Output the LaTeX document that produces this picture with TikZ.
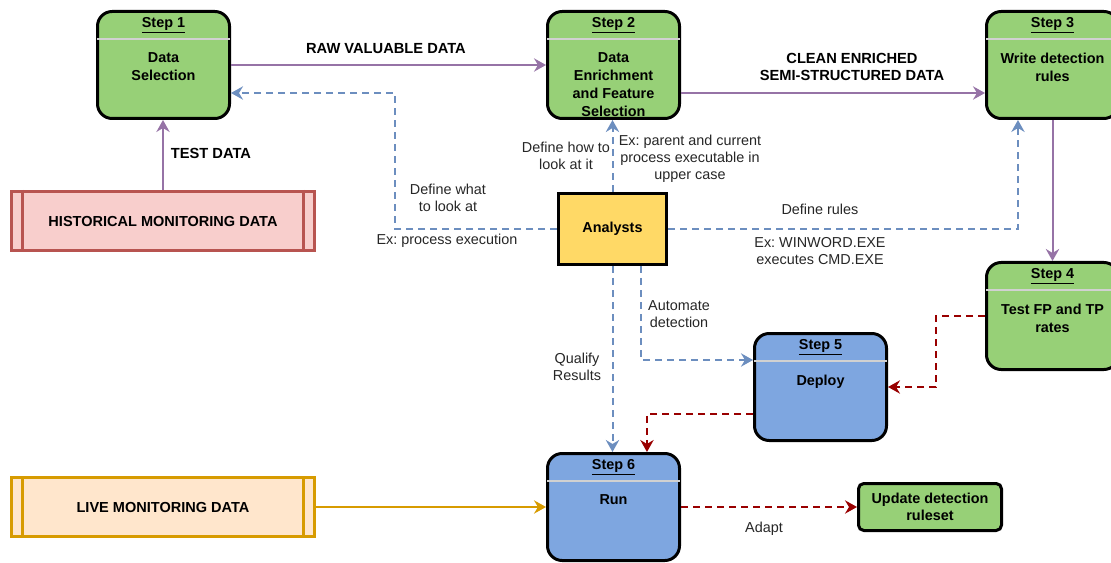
\documentclass[tikz,border=0pt]{standalone}
\usepackage{fontspec}
\setmainfont{Liberation Sans}
\frenchspacing
\usetikzlibrary{arrows.meta,positioning}
\definecolor{stepgreen}{HTML}{97D077}
\definecolor{stepblue}{HTML}{7EA6E0}
\definecolor{flowpurple}{HTML}{9673A6}
\definecolor{askblue}{HTML}{6C8EBF}
\definecolor{fixred}{HTML}{990000}
\definecolor{livefill}{HTML}{FFE6CC}
\definecolor{livedraw}{HTML}{D79B00}
\definecolor{histfill}{HTML}{F8CECC}
\definecolor{histdraw}{HTML}{B85450}
\definecolor{analystfill}{HTML}{FFD966}
\tikzset{
 st/.style
  = {rectangle, draw, line width=2.25pt, rounded corners=11pt, inner sep=0pt,
     minimum width=99pt, minimum height=80.25pt},
 hd/.style
  = {anchor=north, yshift=-5.6pt, inner sep=0pt, font=\fontsize{10.8}{13.5}\selectfont\bfseries},
 bd/.style
  = {anchor=north, yshift=-31.9pt, inner sep=0pt, align=center,
     font=\fontsize{10.8}{13.5}\selectfont\bfseries},
 src/.style
  = {rectangle, line width=2.25pt, minimum width=227.25pt, minimum height=44.25pt,
     font=\fontsize{10.9}{13}\selectfont\bfseries},
 lb/.style
  = {align=center, inner sep=0pt, text=black!85, font=\fontsize{10.8}{12.75}\selectfont},
 bl/.style
  = {align=center, inner sep=0pt, font=\fontsize{11}{12.75}\selectfont\bfseries},
 l/.style
  = {draw=flowpurple, line width=1.5pt, -{Stealth[length=9pt,width=10pt,inset=3pt]}},
 ll/.style
  = {draw=askblue, line width=1.5pt, dash pattern=on 5.5pt off 3.5pt,
     -{Stealth[length=9pt,width=10pt,inset=3pt]}},
 lr/.style
  = {draw=fixred, line width=1.5pt, dash pattern=on 5.5pt off 3.5pt,
     -{Stealth[length=9pt,width=10pt,inset=3pt]}},
}

\begin{document}
\begin{tikzpicture}[x=0.75pt, y=-0.75pt]
\useasboundingbox (0,0) rectangle (1111,563);

% Steps
\node[st, fill=stepgreen, label={[hd]north:\underline{Step 1}},
  label={[bd]north:{Data\\Selection}}] (s1) at (163.5,65) {};
\node[st, fill=stepgreen, label={[hd]north:\underline{Step 2}},
  label={[bd]north:{Data\\Enrichment\\and Feature\\Selection}}] (s2) at (613.5,65) {};
\node[st, fill=stepgreen, label={[hd]north:\underline{Step 3}},
  label={[bd]north:{Write detection\\rules}}] (s3) at (1052.5,65) {};
\node[st, fill=stepgreen, label={[hd]north:\underline{Step 4}},
  label={[bd]north:{Test FP and TP\\rates}}] (s4) at (1052.5,316) {};
\node[st, fill=stepblue, label={[hd]north:\underline{Step 5}},
  label={[bd]north:{Deploy}}] (s5) at (820.5,387) {};
\node[st, fill=stepblue, label={[hd]north:\underline{Step 6}},
  label={[bd]north:{Run}}] (s6) at (613.5,507) {};
\foreach \n in {s1,s2,s3,s4,s5,s6}
  \draw[white!82!black, line width=1.5pt] ([xshift=1.1pt,yshift=-21.4pt]\n.north west)
    -- ([xshift=-1.1pt,yshift=-21.4pt]\n.north east);

% Update box
\node[rectangle, draw, line width=2.25pt, rounded corners=4pt, fill=stepgreen,
  minimum width=107.25pt, minimum height=35.25pt, align=center,
  font=\fontsize{10.8}{12.75}\selectfont\bfseries] (upd) at (930,507)
  {Update detection\\ruleset};

% Analysts
\node[rectangle, draw, line width=2.25pt, fill=analystfill, minimum width=81pt,
  minimum height=53.25pt, font=\fontsize{10.8}{13.5}\selectfont\bfseries] (an) at (612.5,229) {Analysts};

% Data sources
\node[src, draw=histdraw, fill=histfill] (hist) at (163,221) {HISTORICAL MONITORING DATA};
\node[src, draw=livedraw, fill=livefill] (live) at (163,507) {LIVE MONITORING DATA};
\foreach \n/\c in {hist/histdraw, live/livedraw} {
  \draw[\c, line width=2.25pt] ([xshift=9.4pt]\n.north west) -- ([xshift=9.4pt]\n.south west);
  \draw[\c, line width=2.25pt] ([xshift=-9.4pt]\n.north east) -- ([xshift=-9.4pt]\n.south east);
}

% Data flow
\draw[l] (s1.east) -- (s2.west);
\draw[l] (s2.east |- 0,93) -- (s3.west |- 0,93);
\draw[l] (s3.south) -- (s4.north);
\draw[l] (hist.north) -- (hist.north |- s1.south);
\draw[l, draw=livedraw] (live.east) -- (s6.west);

% Analysts input
\draw[ll] (an.west) -| (395,93) -- (s1.east |- 0,93);
\draw[ll] (an.north) -- (an.north |- s2.south);
\draw[ll] (an.east) -| ([xshift=-25.9pt]s3.south);
\draw[ll] (an.south) -- (an.south |- s6.north);
\draw[ll] ([xshift=21.4pt]an.south) |- (s5.west |- 0,360);

% Feedback
\draw[lr] (s4.west) -| (936,387) -- (s5.east);
\draw[lr] (s5.west |- 0,414) -| ([xshift=25.1pt]s6.north);
\draw[lr] (s6.east) -- (upd.west);

% Labels
\node[bl] (lraw) at (386,49) {RAW VALUABLE DATA};
\node[bl] (lclean) at (852,66.5) {CLEAN ENRICHED\\SEMI-STRUCTURED DATA};
\node[bl] (ltest) at (211,153) {TEST DATA};
\node[lb] (lwhat) at (448,197.5) {Define what\\to look at};
\node[lb] (lexwhat) at (447,241) {Ex: process execution};
\node[lb] (lhow) at (566,155.5) {Define how to\\look at it};
\node[lb] (lexhow) at (690,159) {Ex: parent and current\\process executable in\\upper case};
\node[lb] (lrules) at (820,209) {Define rules};
\node[lb] (lexrules) at (820,251.5) {Ex: WINWORD.EXE\\executes CMD.EXE};
\node[lb] (lauto) at (679,314.5) {Automate\\detection};
\node[lb] (lqual) at (577,366.5) {Qualify\\Results};
\node[lb] (ladapt) at (764,529) {Adapt};

\end{tikzpicture}
\end{document}
